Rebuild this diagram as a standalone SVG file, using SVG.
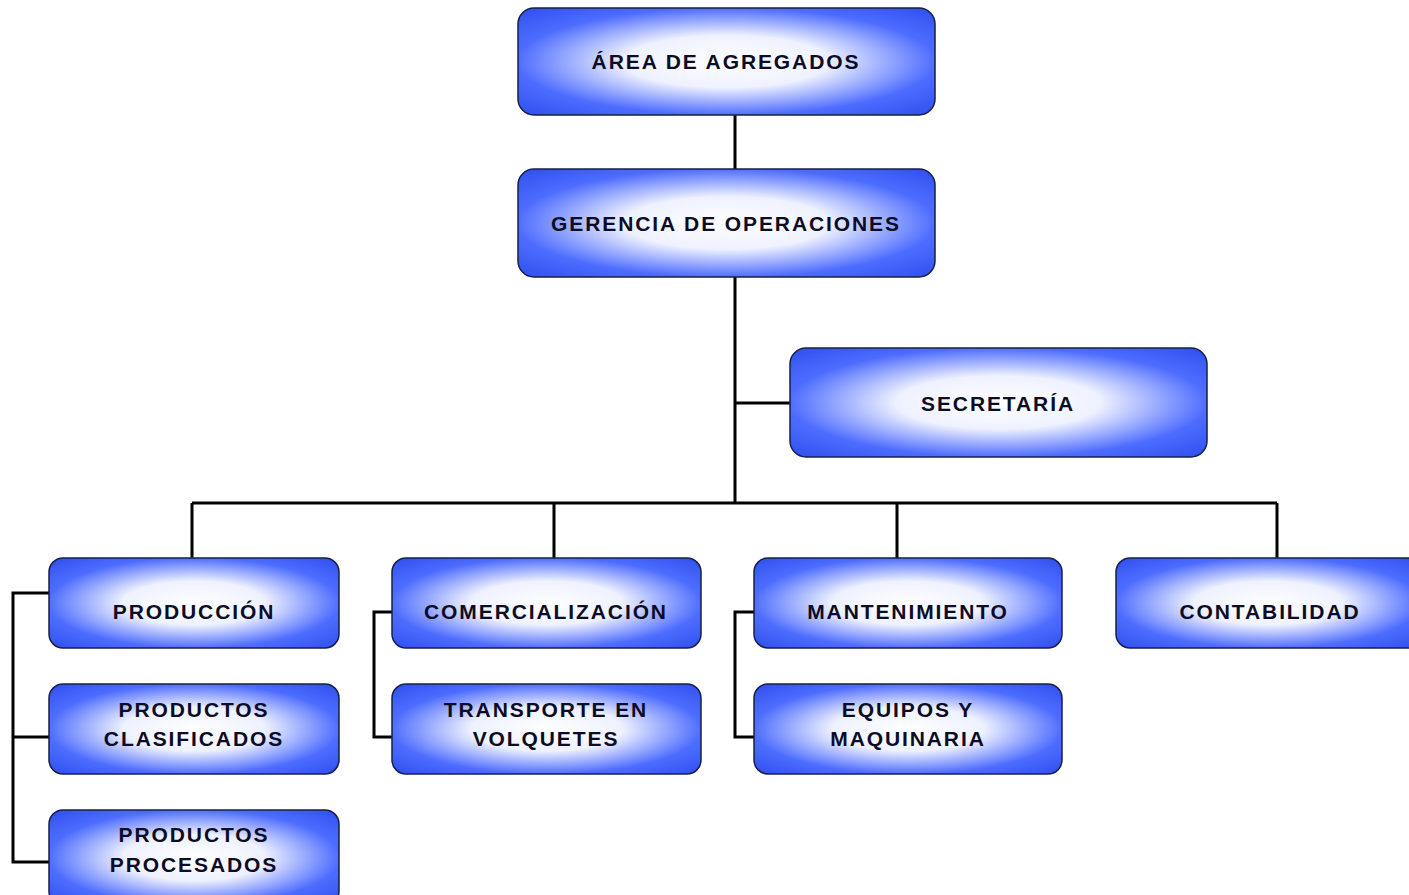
<svg xmlns="http://www.w3.org/2000/svg" width="1409" height="895" viewBox="0 0 1409 895">
<style>
.box{fill:url(#g);stroke:#1a1f4a;stroke-width:1.5}
.t{font-family:"Liberation Sans",Arial,sans-serif;font-weight:bold;font-size:21px;fill:#0c0c24;text-anchor:middle;letter-spacing:1.9px}
.c{stroke:#000;stroke-width:3;fill:none}
</style>
<defs>
<radialGradient id="g" cx="0.5" cy="0.5" r="0.68">
<stop offset="0" stop-color="#ffffff"/>
<stop offset="0.36" stop-color="#eef1ff"/>
<stop offset="0.74" stop-color="#4d6cff"/>
<stop offset="1" stop-color="#3152f0"/>
</radialGradient>
</defs>
<rect width="1409" height="895" fill="#fff"/>
<g id="connectors">
<path class="c" d="M735 115V169M735 277V503M735 403H790M192 503H1277M192 503V558M554 503V558M897 503V558M1277 503V558"/>
<path class="c" d="M49 593H13V862H49M13 737H49"/>
<path class="c" d="M392 612H374V737H392"/>
<path class="c" d="M754 612H735V737H754"/>
</g>
<g id="n-area"><rect class="box" x="518" y="8" width="417" height="107" rx="16"/><text class="t" x="726" y="69">ÁREA DE AGREGADOS</text></g>
<g id="n-gerencia"><rect class="box" x="518" y="169" width="417" height="108" rx="16"/><text class="t" x="726" y="231">GERENCIA DE OPERACIONES</text></g>
<g id="n-secretaria"><rect class="box" x="790" y="348" width="417" height="109" rx="16"/><text class="t" x="998" y="411">SECRETARÍA</text></g>
<g id="n-produccion"><rect class="box" x="49" y="558" width="290" height="90" rx="14"/><text class="t" x="194" y="619">PRODUCCIÓN</text></g>
<g id="n-comercializacion"><rect class="box" x="392" y="558" width="309" height="90" rx="14"/><text class="t" x="546" y="619">COMERCIALIZACIÓN</text></g>
<g id="n-mantenimiento"><rect class="box" x="754" y="558" width="308" height="90" rx="14"/><text class="t" x="908" y="619">MANTENIMIENTO</text></g>
<g id="n-contabilidad"><rect class="box" x="1116" y="558" width="305" height="90" rx="14"/><text class="t" x="1270" y="619">CONTABILIDAD</text></g>
<g id="n-clasificados"><rect class="box" x="49" y="684" width="290" height="90" rx="14"/><text class="t" x="194" y="717">PRODUCTOS</text><text class="t" x="194" y="746">CLASIFICADOS</text></g>
<g id="n-transporte"><rect class="box" x="392" y="684" width="309" height="90" rx="14"/><text class="t" x="546" y="717">TRANSPORTE EN</text><text class="t" x="546" y="746">VOLQUETES</text></g>
<g id="n-equipos"><rect class="box" x="754" y="684" width="308" height="90" rx="14"/><text class="t" x="908" y="717">EQUIPOS Y</text><text class="t" x="908" y="746">MAQUINARIA</text></g>
<g id="n-procesados"><rect class="box" x="49" y="810" width="290" height="95" rx="14"/><text class="t" x="194" y="842">PRODUCTOS</text><text class="t" x="194" y="872">PROCESADOS</text></g>
</svg>
